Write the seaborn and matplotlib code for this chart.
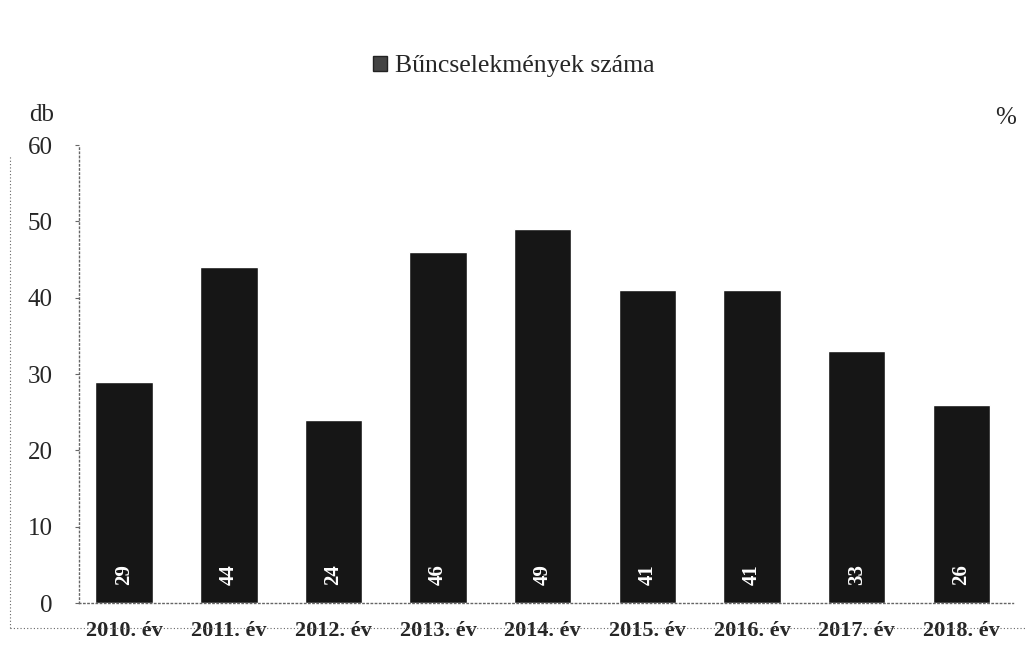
import matplotlib
matplotlib.use("Agg")
import matplotlib.pyplot as plt
from matplotlib.patches import Patch
from matplotlib.lines import Line2D
import seaborn as sns

# Data
YEARS = ['2010. év', '2011. év', '2012. év', '2013. év', '2014. év',
         '2015. év', '2016. év', '2017. év', '2018. év']
CRIMES = [29, 44, 24, 46, 49, 41, 41, 33, 26]
Y_TICKS = [0, 10, 20, 30, 40, 50, 60]

BAR_COLOR = '#161616'
LINE_COLOR = '#666666'

sns.set_style("white")
plt.rcParams['font.family'] = ['Liberation Serif', 'DejaVu Serif']

fig = plt.figure(figsize=(10.27, 6.45), dpi=100)
ax = fig.add_axes([0.077, 0.065, 0.909, 0.710])

sns.barplot(x=YEARS, y=CRIMES, color=BAR_COLOR, saturation=1, width=0.55, ax=ax)

# value labels inside bars, rotated
for i, v in enumerate(CRIMES):
    ax.annotate(str(v), xy=(i, 0), xytext=(0, 13), textcoords='offset points',
                rotation=90, ha='center', va='bottom', color='white',
                fontsize=15, fontweight='bold')

ax.set_ylim(0, 60)
ax.set_xlim(-0.43, 8.49)
ax.set_yticks(Y_TICKS)
ax.tick_params(axis='y', labelsize=18, length=3, width=0.8, color=LINE_COLOR, pad=16, left=True)
ax.tick_params(axis='x', labelsize=16, length=0, pad=13)
for lbl in ax.get_xticklabels():
    lbl.set_fontweight('bold')
ax.set_xlabel('')
ax.set_ylabel('')

for side in ['top', 'right']:
    ax.spines[side].set_visible(False)
for side in ['left', 'bottom']:
    ax.spines[side].set_linestyle((0, (1, 2)))
    ax.spines[side].set_color(LINE_COLOR)
    ax.spines[side].set_linewidth(1.0)

# axis unit labels
fig.text(0.041, 0.822, 'db', fontsize=18, ha='center', va='center')
fig.text(0.979, 0.817, '%', fontsize=18, ha='center', va='center')

# legend at the top
handle = Patch(facecolor='#444444', edgecolor='#222222', label='Bűncselekmények száma')
fig.legend(handles=[handle], loc='center', bbox_to_anchor=(0.5, 0.897), frameon=False,
           fontsize=18.5, handlelength=0.55, handleheight=0.55, handletextpad=0.3)

# outer chart-area border (left and bottom visible)
fig.add_artist(Line2D([0.010, 0.010], [0.026, 0.76], transform=fig.transFigure,
                      color=LINE_COLOR, linestyle=(0, (1, 2)), linewidth=0.8))
fig.add_artist(Line2D([0.010, 1.0], [0.026, 0.026], transform=fig.transFigure,
                      color=LINE_COLOR, linestyle=(0, (1, 2)), linewidth=0.8))

fig.savefig('out.png', dpi=100)
